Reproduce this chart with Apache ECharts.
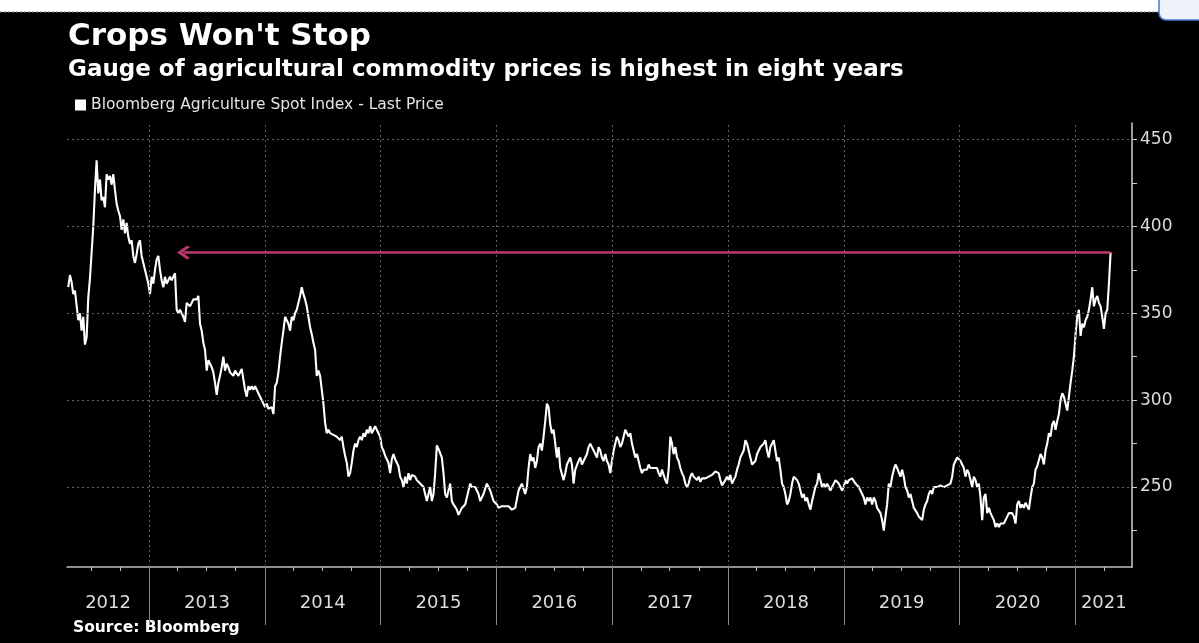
<!DOCTYPE html>
<html>
<head>
<meta charset="utf-8">
<script src="https://cdn.jsdelivr.net/npm/echarts@6/dist/echarts.min.js"></script>
<style>
html,body{margin:0;padding:0;background:#000;}
#c{width:1199px;height:643px;}
</style>
</head>
<body>
<div id="c"></div>
<script>
// ---------- texts ----------
const titleText = "Crops Won't Stop";
const subtitleText = 'Gauge of agricultural commodity prices is highest in eight years';
const seriesName = 'Bloomberg Agriculture Spot Index - Last Price';
const sourceText = 'Source: Bloomberg';

// ---------- data (one every sampleStepDays) ----------
const sampleStart = '2012-04-21';
const sampleStepDays = 5.26;

const values2012to2015 = [
  365,372,368,361,363,362,346,350,340,348,
  332,336,359,370,385,400,421,438,419,427,
  415,417,411,430,427,429,424,430,421,413,
  409,406,398,404,396,402,394,390,392,383,
  379,384,390,392,383,379,375,371,367,361,
  371,367,375,381,383,375,369,365,371,367,
  369,371,369,371,373,352,350,352,350,348,
  345,356,357,354,356,358,359,358,360,344,
  340,333,329,317,323,321,319,316,310,303,
  310,314,319,325,317,321,319,316,317,314,
  317,316,314,316,318,312,306,302,308,306,
  308,306,308,306,304,302,300,298,296,298,
  295,294,296,292,308,310,316,325,333,340,
  348,346,344,340,348,346,350,352,356,360,
  365,361,358,354,348,342,338,333,329,314,
  317,314,306,298,287,281,283,281,282,280,
  281,279,280,277,279,273,268,264,256,258,
  264,271,275,273,277,279,277,281,279,283,
  281,285,281,283,285,283,281,279,273,271,
  268,266,264,258,266,269,266,264,262,256,
  254,250,256,252,258,254
];
const values2015to2018 = [
  257,258,256,254,253,252,251,250,246,242,
  246,250,242,246,258,274,272,273,267,258,
  246,244,248,252,242,240,239,237,234,235,
  238,237,240,244,248,252,250,249,250,250,
  246,242,244,246,249,252,250,248,245,242,
  241,240,238,237,239,240,239,238,239,238,
  237,236,238,243,248,250,252,249,246,250,
  261,269,265,267,261,265,273,275,271,279,
  288,298,296,286,281,283,275,267,273,261,
  260,254,258,263,265,267,263,252,260,261,
  265,267,263,265,267,269,273,275,273,271,
  269,267,273,271,267,265,269,265,263,258,
  265,271,275,279,277,273,275,279,283,284,
  279,281,275,271,267,269,265,261,258,260,
  261,260,263,261,260,261,260,261,258,256,
  260,261,254,252,260,279,275,269,273,267,
  265,261,258,256,252,250,252,256,258,256,
  257,254,256,253,255,254,255,255,256,256,
  257,258,259,260,258,254,251,252,254,256,
  254,257,252,252,256,260,263,267,267,271,
  277,275,271,267,263,262,265,269,271,273
];
const values2018to2021 = [
  273,275,277,271,267,273,275,277,271,265,
  267,260,252,250,246,240,242,246,252,256,
  257,254,252,248,244,246,242,244,240,237,
  242,246,250,252,258,254,250,252,250,252,
  250,248,250,252,254,255,252,250,248,250,
  254,252,254,254,255,254,252,253,250,248,
  246,244,240,244,242,244,240,244,242,238,
  237,235,231,225,233,240,252,250,256,260,
  263,261,260,256,260,256,250,248,244,246,
  242,238,237,235,233,232,231,237,240,242,
  246,248,246,250,251,250,250,251,250,250,
  251,251,251,252,256,263,265,267,266,265,
  263,261,256,260,258,254,250,256,254,250,
  252,244,231,244,246,235,238,235,233,231,
  227,229,227,229,228,229,230,233,235,234,
  235,233,229,240,242,238,240,238,241,240,
  237,244,250,252,260,262,263,269,267,263,
  271,275,281,279,286,288,283,288,292,300,
  304,302,298,294,302,310,317,325,338,348,
  352,337,344,342,346,348,352,358,365,354,
  358,360,356,354,348,341,350,352,367,385
];

// ---------- axes ----------
const axisStartDate = '2012-04-17';
const axisEndDate = '2021-06-28';
const yearStarts = ['2013-01-01','2014-01-01','2015-01-01','2016-01-01','2017-01-01',
                    '2018-01-01','2019-01-01','2020-01-01','2021-01-01'];
const yearLabels = ['2012','2013','2014','2015','2016','2017','2018','2019','2020','2021'];
const quarterMonths = [3, 6, 9]; // Apr, Jul, Oct (0-based)
const yMin = 204, yMax = 459.5;
const yTickValues = [225, 250, 275, 300, 325, 350, 375, 400, 425, 450];
const yLabelValues = [250, 300, 350, 400, 450];
const arrowTargetDate = '2013-04-19';

// ---------- build ----------
const DAY = 86400000;
const t0 = Date.parse(sampleStart);
const values = values2012to2015.concat(values2015to2018, values2018to2021);
const seriesData = values.map((v, i) => [t0 + i * sampleStepDays * DAY, v]);
const lastPoint = seriesData[seriesData.length - 1];
const axisMin = Date.parse(axisStartDate);
const axisMax = Date.parse(axisEndDate);
const yearMs = yearStarts.map(d => Date.parse(d));
const bounds = [axisMin].concat(yearMs, [axisMax]);
const labelMs = yearLabels.map((_, i) => (bounds[i] + bounds[i + 1]) / 2);
const quarterMs = [];
for (let y = 2012; y <= 2021; y++) {
  quarterMonths.forEach(m => {
    const t = Date.UTC(y, m, 1);
    if (t > axisMin && t < axisMax) quarterMs.push(t);
  });
}
function yearOf(v) {
  let best = 0;
  labelMs.forEach((t, i) => { if (Math.abs(t - v) < Math.abs(labelMs[best] - v)) best = i; });
  return yearLabels[best];
}

const FONT = 'DejaVu Sans';
const chevron = 'path://M10,0 L20,10 L17.5,12.5 L10,5 L2.5,12.5 L0,10 Z';

const chart = echarts.init(document.getElementById('c'));
chart.setOption({
  backgroundColor: '#000',
  animation: false,
  textStyle: { fontFamily: FONT },
  grid: { left: 67, right: 67, top: 123, bottom: 76, containLabel: false, outerBoundsMode: 'none' },
  legend: {
    data: [seriesName],
    left: 75, top: 97, padding: 0,
    icon: 'rect', itemWidth: 11, itemHeight: 11, itemGap: 5,
    selectedMode: false,
    textStyle: { color: '#e4e4e4', fontSize: 15.5, fontFamily: FONT }
  },
  graphic: [
    { type: 'rect', shape: { x: 0, y: 0, width: 1199, height: 12 }, style: { fill: '#fff' }, silent: true },
    { type: 'line', shape: { x1: 0, y1: 12, x2: 1199, y2: 12 }, style: { stroke: '#8a8a8a', lineWidth: 1, lineDash: [2, 2] }, silent: true },
    { type: 'rect', shape: { x: 1159, y: -10, width: 60, height: 30, r: 7 }, style: { fill: '#eef3fb', stroke: '#4a78cc', lineWidth: 1.5 }, silent: true },
    { type: 'text', x: 68, y: 37, style: { text: titleText, fill: '#fff', font: 'bold 31px "DejaVu Sans"', align: 'left', verticalAlign: 'middle' }, silent: true },
    { type: 'text', x: 68, y: 70, style: { text: subtitleText, fill: '#fff', font: 'bold 23px "DejaVu Sans"', align: 'left', verticalAlign: 'middle' }, silent: true },
    { type: 'text', x: 73, y: 628, style: { text: sourceText, fill: '#fff', font: 'bold 15.5px "DejaVu Sans"', align: 'left', verticalAlign: 'middle' }, silent: true }
  ],
  xAxis: [
    {
      type: 'value', min: axisMin, max: axisMax, position: 'bottom', scale: true,
      axisLine: { show: true, lineStyle: { color: '#bdbdbd', width: 1.5 } },
      axisTick: { show: true, customValues: yearMs, length: 58, lineStyle: { color: '#8a8a8a', width: 1 } },
      axisLabel: {
        show: true, customValues: labelMs, margin: 27,
        color: '#dcdcdc', fontSize: 18, fontFamily: FONT,
        formatter: v => yearOf(v)
      },
      splitLine: { show: false }
    },
    {
      type: 'value', min: axisMin, max: axisMax, position: 'bottom', scale: true,
      axisLine: { show: false },
      axisTick: { show: true, customValues: quarterMs, length: 4, lineStyle: { color: '#bdbdbd', width: 1 } },
      axisLabel: { show: false },
      splitLine: { show: false }
    }
  ],
  yAxis: {
    type: 'value', position: 'right', min: yMin, max: yMax,
    axisLine: { show: true, lineStyle: { color: '#cfcfcf', width: 1.5 } },
    axisTick: { show: true, customValues: yTickValues, length: 5, lineStyle: { color: '#cfcfcf', width: 1 } },
    axisLabel: { show: true, customValues: yLabelValues, color: '#dcdcdc', fontSize: 17, margin: 8, fontFamily: FONT },
    splitLine: { show: false }
  },
  series: [
    {
      name: 'gridlines', type: 'line', data: seriesData, showSymbol: false, symbol: 'none',
      lineStyle: { opacity: 0 }, silent: true, z: 1,
      markLine: {
        silent: true, symbol: 'none', label: { show: false },
        lineStyle: { color: '#626262', type: [2, 3], width: 1 },
        emphasis: { disabled: true },
        data: yLabelValues.map(v => ({ yAxis: v })).concat(yearMs.map(t => ({ xAxis: t })))
      }
    },
    {
      name: seriesName, type: 'line', data: seriesData, showSymbol: false, symbol: 'none',
      lineStyle: { color: '#ffffff', width: 2.1 }, itemStyle: { color: '#ffffff' }, z: 3,
      markLine: {
        silent: true, symbol: ['none', chevron], symbolSize: [14, 13],
        label: { show: false },
        emphasis: { disabled: true },
        lineStyle: { color: '#c0376f', width: 2.5, type: 'solid' },
        data: [[
          { coord: [lastPoint[0], lastPoint[1]] },
          { coord: [Date.parse(arrowTargetDate), lastPoint[1]] }
        ]]
      }
    }
  ]
});
</script>
</body>
</html>
